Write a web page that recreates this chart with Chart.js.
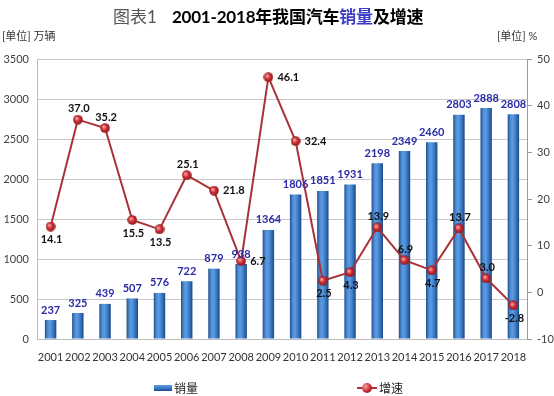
<!DOCTYPE html>
<html lang="zh">
<head>
  <meta charset="UTF-8">
  <title>2001-2018年我国汽车销量及增速</title>
  <script src="https://cdn.jsdelivr.net/npm/chart.js"></script>
  <style>
    body {
      margin: 0;
      background: #fff;
      font-family: Lato, "Noto Sans CJK SC", sans-serif;
    }
    #wrap {
      position: relative;
      width: 554px;
      height: 396px;
      overflow: hidden;
    }
    #chart {
      position: absolute;
      left: 0;
      top: 0;
    }
    .title {
      position: absolute;
      left: 113px;
      top: 3px;
      font-size: 17px;
      white-space: nowrap;
      color: #000;
    }
    .title .fig {
      color: #555;
      font-weight: normal;
      margin-right: 15px;
    }
    .title b { font-weight: bold; letter-spacing: -0.2px; }
    .title .hl { color: #3d3dc8; }
    .unit {
      position: absolute;
      top: 27px;
      font-size: 11px;
      color: #333;
      white-space: nowrap;
    }
    .legend {
      position: absolute;
      top: 379px;
      font-size: 12px;
      color: #222;
      display: flex;
      align-items: center;
      white-space: nowrap;
    }
    .swatch-bar {
      width: 18px;
      height: 6px;
      margin-right: 2px;
      background: linear-gradient(#5d9be0, #3674c0 60%, #1c4883);
    }
    .swatch-line {
      position: relative;
      width: 20px;
      height: 10px;
      margin-right: 2px;
    }
    .swatch-line::before {
      content: "";
      position: absolute;
      left: 0; right: 0; top: 4px;
      height: 2px;
      background: #a83238;
    }
    .swatch-line::after {
      content: "";
      position: absolute;
      left: 5px; top: 0;
      width: 10px; height: 10px;
      border-radius: 50%;
      background: radial-gradient(circle at 35% 35%, #f4a0a0, #c8282e 55%, #8a1a1e);
    }
  </style>
</head>
<body>
  <div id="wrap">
    <canvas id="chart" width="554" height="396"></canvas>
    <div class="title"><span class="fig">图表1</span><b>2001-2018年我国汽车<span class="hl">销量</span>及增速</b></div>
    <div class="unit" style="left:2px">[单位] 万辆</div>
    <div class="unit" style="left:497px">[单位] %</div>
    <div class="legend" style="left:154px"><span class="swatch-bar"></span>销量</div>
    <div class="legend" style="left:357px"><span class="swatch-line"></span>增速</div>
  </div>

  <script>
    // data
    const years = ['2001', '2002', '2003', '2004', '2005', '2006', '2007', '2008', '2009',
                   '2010', '2011', '2012', '2013', '2014', '2015', '2016', '2017', '2018'];
    const sales = [237, 325, 439, 507, 576, 722, 879, 938, 1364,
                   1806, 1851, 1931, 2198, 2349, 2460, 2803, 2888, 2808];   // 万辆
    const growth = [14.1, 37.0, 35.2, 15.5, 13.5, 25.1, 21.8, 6.7, 46.1,
                    32.4, 2.5, 4.3, 13.9, 6.9, 4.7, 13.7, 3.0, -2.8];      // %

    // where each growth label sits: a = above, b = below, r = right
    const growthLabelSide = ['b', 'a', 'a', 'b', 'b', 'a', 'r', 'r', 'r',
                             'r', 'b', 'b', 'a', 'a', 'b', 'a', 'a', 'b'];

    const BAR_FRACTION = 0.42;

    // little red sphere used as point marker
    const sphere = document.createElement('canvas');
    sphere.width = 10;
    sphere.height = 10;
    (function () {
      const c = sphere.getContext('2d');
      const g = c.createRadialGradient(3.5, 3.5, 0.5, 5, 5, 5);
      g.addColorStop(0, '#f6a8a8');
      g.addColorStop(0.5, '#cc2a30');
      g.addColorStop(1, '#86181c');
      c.fillStyle = g;
      c.beginPath();
      c.arc(5, 5, 4.8, 0, Math.PI * 2);
      c.fill();
    })();

    function barFill(context) {
      const chart = context.chart;
      const xs = chart.scales.x;
      if (!xs || !chart.chartArea) return '#3674c0';
      const x = xs.getPixelForValue(context.dataIndex);
      const w = (xs.width / years.length) * BAR_FRACTION;
      const g = chart.ctx.createLinearGradient(x - w / 2, 0, x + w / 2, 0);
      g.addColorStop(0, '#1e4f8e');
      g.addColorStop(0.25, '#4f8fd6');
      g.addColorStop(0.45, '#5d9be0');
      g.addColorStop(0.75, '#3674c0');
      g.addColorStop(1, '#1c4883');
      return g;
    }

    // value labels on bars and points
    const valueLabels = {
      id: 'valueLabels',
      afterDatasetsDraw(chart) {
        const ctx = chart.ctx;
        ctx.save();
        ctx.font = 'bold 11px Lato, sans-serif';

        const bars = chart.getDatasetMeta(0).data;
        ctx.fillStyle = '#2a2aa8';
        ctx.textAlign = 'center';
        ctx.textBaseline = 'middle';
        bars.forEach((b, i) => {
          ctx.fillText(String(sales[i]), b.x, b.y - 10);
        });

        const pts = chart.getDatasetMeta(1).data;
        ctx.fillStyle = '#111';
        pts.forEach((p, i) => {
          const txt = growth[i].toFixed(1);
          const side = growthLabelSide[i];
          if (side === 'a') {
            ctx.textAlign = 'center';
            ctx.fillText(txt, p.x + 1, p.y - 11);
          } else if (side === 'b') {
            ctx.textAlign = 'center';
            ctx.fillText(txt, p.x + 1, p.y + 13);
          } else {
            ctx.textAlign = 'left';
            ctx.fillText(txt, p.x + 9, p.y);
          }
        });
        ctx.restore();
      }
    };

    Chart.defaults.font.family = 'Lato, "Noto Sans CJK SC", sans-serif';
    Chart.defaults.font.size = 11;
    Chart.defaults.color = '#404040';

    new Chart(document.getElementById('chart'), {
      type: 'bar',
      data: {
        labels: years,
        datasets: [{
          type: 'bar',
          label: '销量',
          data: sales,
          yAxisID: 'y',
          backgroundColor: barFill,
          borderWidth: 0,
          categoryPercentage: 1,
          barPercentage: BAR_FRACTION,
          order: 1
        }, {
          type: 'line',
          label: '增速',
          data: growth,
          yAxisID: 'y2',
          borderColor: '#a83238',
          borderWidth: 2,
          tension: 0,
          pointStyle: sphere,
          pointRadius: 5,
          order: 0
        }]
      },
      options: {
        responsive: false,
        animation: false,
        devicePixelRatio: 1,
        layout: { padding: { top: 59, left: 0, right: 0, bottom: 0 } },
        plugins: {
          legend: { display: false },
          tooltip: { enabled: false }
        },
        scales: {
          x: {
            grid: { display: false, drawTicks: false },
            border: { display: true, color: '#bdbdbd' },
            ticks: { padding: 12, color: '#333', maxRotation: 0, autoSkip: false },
            afterFit(s) { s.height = 57; }
          },
          y: {
            position: 'left',
            min: 0,
            max: 3500,
            ticks: { stepSize: 500, padding: 8, color: '#404040', callback: v => String(v) },
            grid: { color: '#c8c8c8', drawTicks: false },
            border: { display: true, color: '#bdbdbd' },
            afterFit(s) { s.width = 37; }
          },
          y2: {
            position: 'right',
            min: -10,
            max: 50,
            ticks: { stepSize: 10, padding: 5, color: '#404040', callback: v => String(v) },
            grid: { drawOnChartArea: false, drawTicks: true, tickLength: 5, color: '#9a9a9a' },
            border: { display: true, color: '#9a9a9a' },
            afterFit(s) { s.width = 27; }
          }
        }
      },
      plugins: [valueLabels]
    });
  </script>
</body>
</html>
